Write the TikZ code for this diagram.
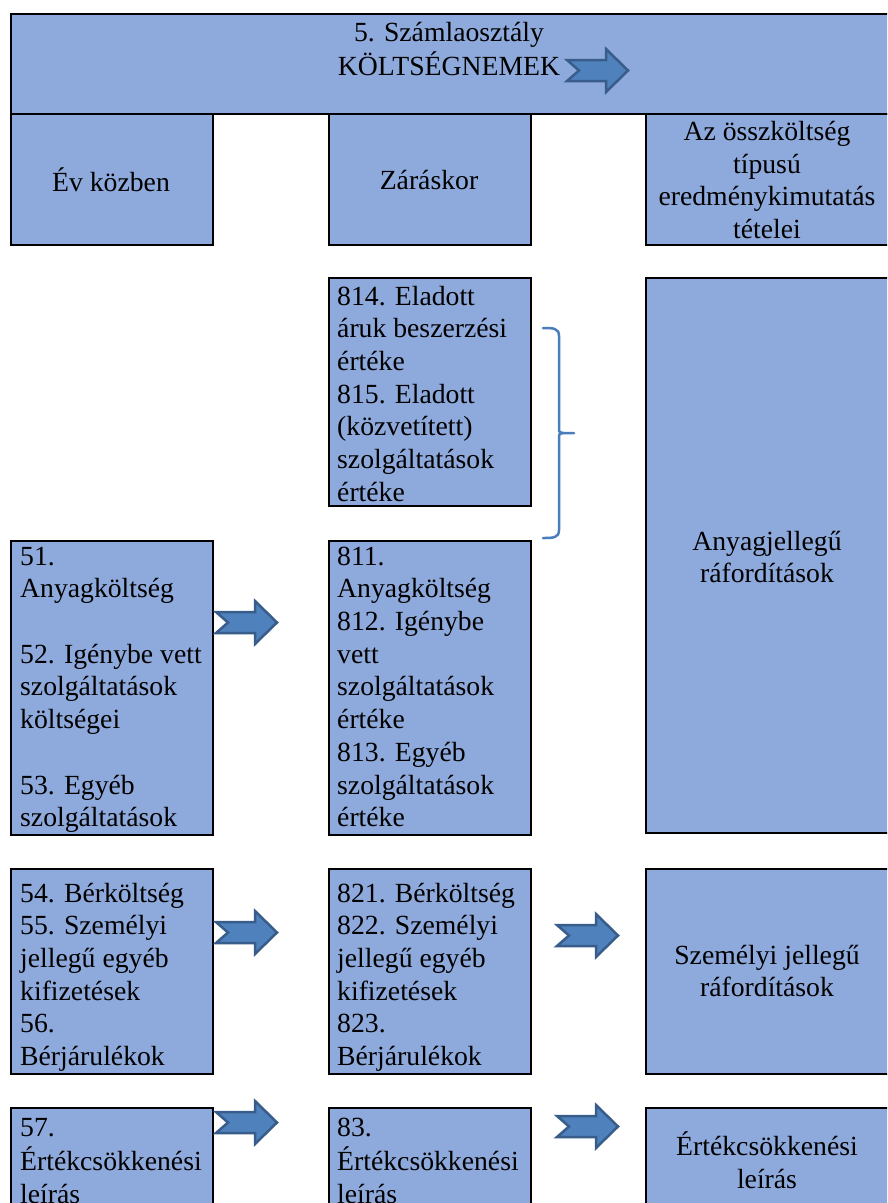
\documentclass[tikz,border=0pt]{standalone}
\usepackage{fontspec}
\setmainfont{Liberation Serif}
\definecolor{boxfill}{RGB}{142,169,219}
\definecolor{arrfill}{RGB}{79,129,189}
\definecolor{arrline}{RGB}{56,93,138}
\definecolor{bracecol}{RGB}{74,126,187}
\newcommand{\fs}{\fontsize{27.7pt}{32.7pt}\selectfont}
\tikzset{
  box/.style={draw=black, line width=2pt, fill=boxfill, rectangle, inner sep=0pt, anchor=north west},
  ltxt/.style={inner sep=0pt, align=left, anchor=north west, font=\fs},
  ctxt/.style={inner sep=0pt, align=center, font=\fs},
  blockarrow/.pic={
    \path[draw=arrline, fill=arrfill, line width=2.5pt, line join=miter]
      (0,-11) -- (39,-11) -- (39,0) -- (61,-21.5) -- (39,-43) -- (39,-32) -- (0,-32) -- (12,-21.5) -- cycle;
  }
}
\begin{document}
\begin{tikzpicture}[x=1pt,y=1pt]
\clip (0,0) rectangle (887,-1203);
\fill[white] (0,0) rectangle (887,-1203);
% boxes
\node[box, minimum width=880pt, minimum height=100pt] (head) at (10,-13) {};
\node[box, minimum width=202pt, minimum height=131pt] (evk) at (10,-113) {};
\node[box, minimum width=202pt, minimum height=131pt] (zar) at (328,-113) {};
\node[box, minimum width=250pt, minimum height=131pt] (osz) at (645,-113) {};
\node[box, minimum width=202pt, minimum height=228pt] (b814) at (328,-277) {};
\node[box, minimum width=250pt, minimum height=555pt] (anyr) at (645,-277) {};
\node[box, minimum width=202pt, minimum height=294pt] (b51) at (10,-540) {};
\node[box, minimum width=202pt, minimum height=294pt] (b811) at (328,-540) {};
\node[box, minimum width=202pt, minimum height=205pt] (b54) at (10,-868) {};
\node[box, minimum width=202pt, minimum height=205pt] (b821) at (328,-868) {};
\node[box, minimum width=250pt, minimum height=205pt] (szemr) at (645,-868) {};
\node[box, minimum width=202pt, minimum height=110pt] (b57) at (10,-1107) {};
\node[box, minimum width=202pt, minimum height=110pt] (b83) at (328,-1107) {};
\node[box, minimum width=250pt, minimum height=110pt] (ertr) at (645,-1107) {};
% texts
\node[ctxt, anchor=north] (headt) at (449,-18) {\strut 5. Számlaosztály\\KÖLTSÉGNEMEK};
\node[ctxt] (evkt) at (111,-180) {Év közben};
\node[ctxt] (zart) at (429,-180) {Záráskor};
\node[ctxt] (oszt) at (767,-180) {Az összköltség\\típusú\\eredménykimutatás\\tételei};
\node[ltxt] (t814) at (337,-282) {\strut 814. Eladott\\áruk beszerzési\\értéke\\815. Eladott\\(közvetített)\\szolgáltatások\\értéke};
\node[ctxt] (anyrt) at (767,-557) {Anyagjellegű\\ráfordítások};
\node[ltxt] (t51) at (20,-542) {\strut 51.\\Anyagköltség\\\mbox{}\\52. Igénybe vett\\szolgáltatások\\költségei\\\mbox{}\\53. Egyéb\\szolgáltatások};
\node[ltxt] (t811) at (337,-542) {\strut 811.\\Anyagköltség\\812. Igénybe\\vett\\szolgáltatások\\értéke\\813. Egyéb\\szolgáltatások\\értéke};
\node[ltxt] (t54) at (20,-879) {\strut 54. Bérköltség\\55. Személyi\\jellegű egyéb\\kifizetések\\56.\\Bérjárulékok};
\node[ltxt] (t821) at (337,-879) {\strut 821. Bérköltség\\822. Személyi\\jellegű egyéb\\kifizetések\\823.\\Bérjárulékok};
\node[ctxt] (szemrt) at (767,-971) {Személyi jellegű\\ráfordítások};
\node[ltxt] (t57) at (20,-1113) {\strut 57.\\Értékcsökkenési\\leírás};
\node[ltxt] (t83) at (337,-1113) {\strut 83.\\Értékcsökkenési\\leírás};
\node[ctxt] (ertrt) at (767,-1160) {Értékcsökkenési\\leírás};
% block arrows
\pic at (567,-49) {blockarrow};
\pic at (216,-601) {blockarrow};
\pic at (216,-911) {blockarrow};
\pic at (557,-914) {blockarrow};
\pic at (216,-1101) {blockarrow};
\pic at (557,-1105) {blockarrow};
% brace
\draw[bracecol, line width=2.5pt, line cap=round]
  (543,-328) .. controls (553,-328) and (559,-328) .. (559,-336)
  -- (559,-428) .. controls (559,-432) .. (563,-433) -- (574,-433);
\draw[bracecol, line width=2.5pt, line cap=round]
  (563,-433) .. controls (559,-434) .. (559,-438)
  -- (559,-530) .. controls (559,-538) and (553,-538) .. (543,-538);
\end{tikzpicture}
\end{document}
